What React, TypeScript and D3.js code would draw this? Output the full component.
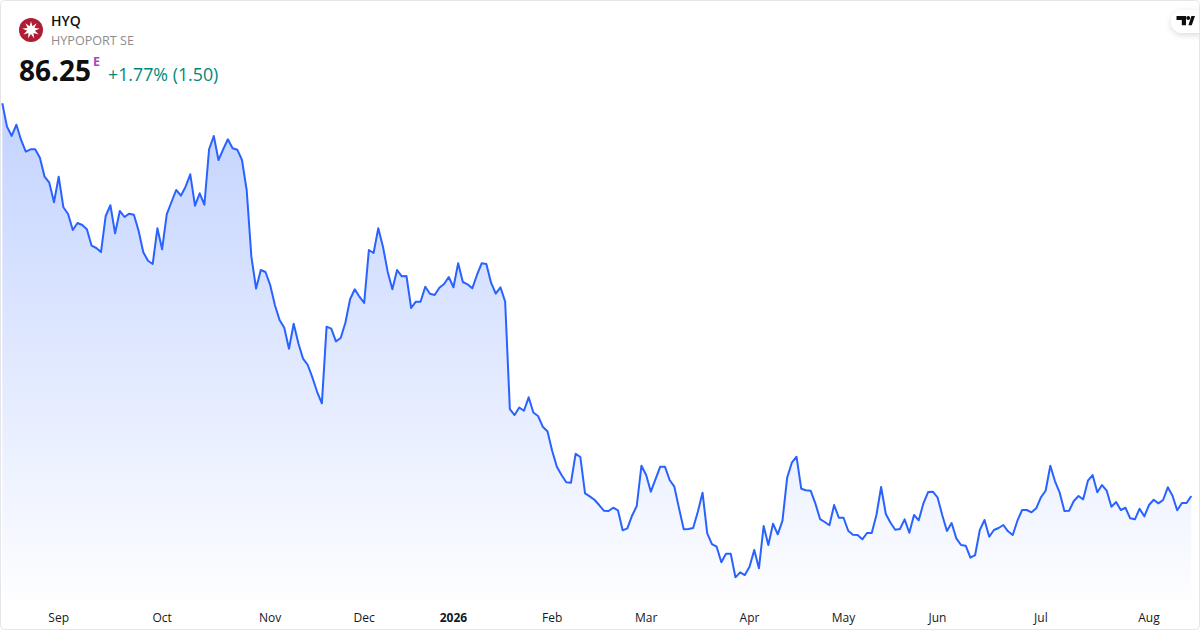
import { useEffect } from 'react';
import * as d3 from 'd3';

const WIDTH = 1200;
const HEIGHT = 630;

// daily closes
const closes = [
  170.28, 165.28, 163.29, 165.7, 162.43, 159.93, 160.44, 160.44, 158.64, 154.58,
  153.29, 149.1, 154.58, 148.03, 146.59, 143.17, 144.67, 144.24, 143.32, 139.81,
  139.32, 138.46, 146.17, 148.46, 142.46, 147.24, 145.95, 146.66, 146.44, 143.02,
  138.4, 136.6, 135.89, 143.53, 139.04, 146.59, 149.16, 151.73, 150.51, 152.44,
  155.09, 148.37, 151.02, 148.58, 160.44, 163.29, 158.15, 160.44, 162.58, 160.65,
  160.35, 158.15, 151.73, 137.46, 130.65, 134.61, 134.18, 131.4, 127.12, 123.91,
  122.26, 117.77, 123.12, 118.92, 115.63, 114.28, 111.56, 108.5, 106.08, 122.48,
  122.05, 119.35, 120.06, 123.33, 128.34, 130.48, 128.9, 127.55, 138.89, 138.25,
  143.53, 139.6, 134.25, 130.48, 134.61, 133.26, 133.33, 126.48, 127.83, 127.83,
  131.04, 129.54, 129.26, 130.82, 131.61, 133.11, 130.91, 136.04, 132.04, 131.55,
  130.69, 133.54, 136.04, 135.89, 131.89, 129.54, 130.91, 127.83, 104.86, 103.58,
  105.18, 104.5, 107.37, 104.11, 103.37, 101.08, 100.09, 95.94, 92.52, 90.74,
  89.18, 89.09, 95.3, 94.59, 86.82, 86.18, 85.45, 84.32, 83.1, 83.04,
  83.74, 83.19, 78.91, 79.33, 82.03, 84.11, 92.73, 90.74, 87.17, 89.88,
  92.52, 92.52, 89.67, 88.24, 83.61, 79.12, 79.18, 79.4, 82.89, 86.95,
  78.26, 75.97, 75.4, 72.06, 73.9, 73.9, 68.85, 69.92, 69.34, 71.12,
  74.69, 70.77, 79.83, 75.76, 80.32, 78.05, 80.92, 90.14, 93.37, 94.66,
  87.81, 87.47, 87.38, 84.68, 81.32, 80.68, 79.98, 84.32, 81.6, 81.6,
  78.82, 77.96, 77.9, 76.98, 78.33, 78.33, 82.18, 88.17, 82.39, 80.53,
  79.03, 79.18, 81.26, 78.39, 82.18, 81.05, 84.68, 87.1, 87.17, 85.97,
  82.18, 78.76, 80.47, 77.19, 75.76, 75.61, 73.04, 73.62, 78.97, 81.11,
  77.54, 78.97, 79.4, 80.04, 78.69, 77.9, 80.96, 83.25, 83.25, 82.76,
  83.61, 85.97, 87.38, 92.73, 89.39, 86.95, 83.04, 83.1, 85.18, 86.25,
  85.54, 89.52, 90.74, 87.04, 88.6, 87.38, 83.96, 84.96, 83.25, 83.74,
  81.47, 81.26, 83.53, 81.9, 84.32, 85.45, 84.68, 85.39, 88.11, 86.31,
  83.19, 84.75, 84.75, 86.25,
];

const tickLabels = ['Sep', 'Oct', 'Nov', 'Dec', '2026', 'Feb', 'Mar', 'Apr', 'May', 'Jun', 'Jul', 'Aug'];
const tickIndexes = [12, 34, 57, 77, 96, 117, 137, 159, 179, 199, 221, 244];

const symbol = 'HYQ';
const companyName = 'HYPOPORT SE';
const lastPrice = '86.25';
const change = '+1.77% (1.50)';

const FONT = '"Open Sans", sans-serif';

// starburst for the company logo
const burst = d3.lineRadial<number>()
  .angle((_, i) => (i * Math.PI) / 9)
  .radius((_, i) => (i % 2 === 0 ? 8.8 : 4))
  .curve(d3.curveLinearClosed)(d3.range(18));

export default function App() {
  useEffect(() => {
    document.body.style.margin = '0';
    document.body.style.background = '#fff';
  }, []);

  const x = d3.scaleLinear().domain([0, closes.length - 1]).range([2.3, 1191.3]);
  const y = d3.scaleLinear().domain([86.25, 170.28]).range([496, 103.3]);

  const linePath = d3.line<number>()
    .x((_, i) => x(i))
    .y(d => y(d))(closes);

  const areaPath = d3.area<number>()
    .x((_, i) => x(i))
    .y0(600)
    .y1(d => y(d))(closes);

  return (
    <svg width={WIDTH} height={HEIGHT} viewBox={`0 0 ${WIDTH} ${HEIGHT}`} style={{ display: 'block', fontFamily: FONT }}>
      <defs>
        <linearGradient id="areaFill" gradientUnits="userSpaceOnUse" x1="0" y1="103" x2="0" y2="600">
          <stop offset="0" stopColor="#2962ff" stopOpacity="0.28" />
          <stop offset="1" stopColor="#2962ff" stopOpacity="0.01" />
        </linearGradient>
        <filter id="logoShadow" x="-30%" y="-30%" width="160%" height="180%">
          <feDropShadow dx="0" dy="2" stdDeviation="3" floodColor="#000" floodOpacity="0.14" />
        </filter>
        <clipPath id="frame">
          <rect x="1" y="1" width={WIDTH - 2} height={HEIGHT - 2} rx="4" />
        </clipPath>
      </defs>

      <rect width={WIDTH} height={HEIGHT} fill="#fff" />

      <g clipPath="url(#frame)">
        <path d={areaPath ?? ''} fill="url(#areaFill)" />
        <path d={linePath ?? ''} fill="none" stroke="#2962ff" strokeWidth={2} strokeLinejoin="round" />

        {/* TV badge */}
        <rect x="1171" y="10" width="50" height="23" rx="11.5" fill="#fff" filter="url(#logoShadow)" />
        <path
          d="M1176.5 16h9.5v9.2h-4.2v-5.2h-5.3z M1188.4 25.2l3-9.2h3.6l-3.2 9.2z"
          fill="#0f0f0f"
        />
        <circle cx="1188.2" cy="18" r="2" fill="#0f0f0f" />
      </g>

      <rect x="0.5" y="0.5" width={WIDTH - 1} height={HEIGHT - 1} rx="4" fill="none" stroke="#e6e6e8" />

      {/* header */}
      <circle cx="31" cy="30" r="12" fill="#b01c33" />
      <path d={burst ?? ''} transform="translate(31,30)" fill="#fff" />
      <text x="51" y="26" fontSize="14" fontWeight="600" fill="#0f0f0f">{symbol}</text>
      <text x="51" y="45" fontSize="12.6" fill="#8c8c8c">{companyName}</text>
      <text x="19" y="81" fontSize="28" fontWeight="700" fill="#0f0f0f">{lastPrice}</text>
      <text x="93" y="66" fontSize="12.5" fontWeight="700" fill="#ab47bc">E</text>
      <text x="108" y="81" fontSize="17.8" fill="#00897b">{change}</text>

      {/* month labels */}
      {tickLabels.map((label, i) => (
        <text
          key={label}
          x={x(tickIndexes[i])}
          y="622"
          textAnchor="middle"
          fontSize="12"
          fontWeight={label === '2026' ? 700 : 400}
          fill="#131722"
        >
          {label}
        </text>
      ))}
    </svg>
  );
}
